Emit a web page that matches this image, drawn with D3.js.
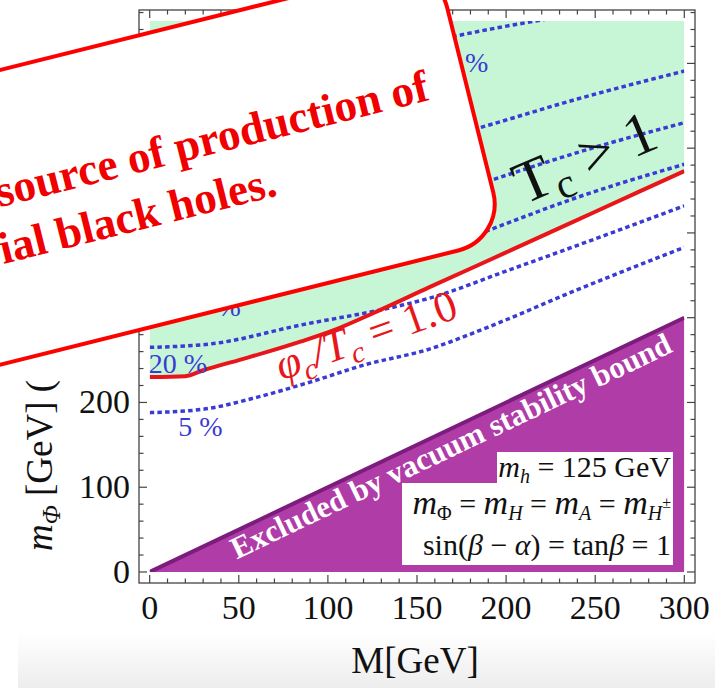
<!DOCTYPE html>
<html><head><meta charset="utf-8">
<script src="https://cdn.jsdelivr.net/npm/d3@7"></script>
<style>html,body{margin:0;padding:0;background:#fff;} svg{display:block;}</style>
</head><body>
<svg id="chart" width="715" height="688"></svg>
<script>
// ---- data ----------------------------------------------------------
const xMajorTicks = [0, 50, 100, 150, 200, 250, 300];
const yMajorTicks = [0, 100, 200, 300, 400, 500, 600];

// phi_c / T_c = 1.0 boundary  [M, m_Phi]
const criticalLine = [[0,230],[20,231],[30,238],[50,250],[65,259],[85,272],[103,285],[125,305],[157,336],[200,377],[250,425],[300,473]];
// dotted contours of the fraction (percent)
const contour5  = [[0,188],[30,192],[60,206],[90,224],[120,244],[157,263],[190,289],[240,333],[300,383]];
const contour20 = [[0,265],[34,269],[84,291],[140,314],[157,323],[200,355],[250,393],[300,432]];
const contourD  = [[0,306],[40,318],[80,336],[139,362],[190,403],[240,442],[300,481]];
const contourC  = [[140,425],[190,461],[245,498],[300,530]];
const contourB  = [[140,498],[185,524],[240,558],[300,591]];
const contourA  = [[140,620],[166,630],[190,640],[222,652]];
const contours = [contour5, contour20, contourD, contourC, contourB, contourA];
// vacuum stability: m_Phi < M excluded
const excluded = [[0,0],[300,300],[300,0]];
const regionTop = 650;

// ---- scales --------------------------------------------------------
const svg = d3.select("#chart");
const x = d3.scaleLinear().domain([-6, 306]).range([139, 695]);
const y = d3.scaleLinear().domain([-13, 663]).range([583, 10]);
const serif = "'Liberation Serif','Times New Roman',serif";

// faint grey band at the foot of the page
const defs = svg.append("defs");
const g1 = defs.append("linearGradient").attr("id","foot").attr("x1",0).attr("y1",0).attr("x2",0).attr("y2",1);
g1.append("stop").attr("offset","0").attr("stop-color","#ffffff");
g1.append("stop").attr("offset","1").attr("stop-color","#ededed");
svg.append("rect").attr("x",18).attr("y",632).attr("width",697).attr("height",56).attr("fill","url(#foot)");

defs.append("clipPath").attr("id","plotClip").append("rect")
  .attr("x", x(0)).attr("y", y(regionTop)).attr("width", x(300)-x(0)).attr("height", y(0)-y(regionTop));

const plot = svg.append("g").attr("clip-path","url(#plotClip)");

// strong first-order region (above the critical line)
plot.append("path")
  .datum(criticalLine)
  .attr("d", d3.area().x(d=>x(d[0])).y0(y(regionTop)).y1(d=>y(d[1])).curve(d3.curveMonotoneX))
  .attr("fill","#c6f6d6");

// excluded triangle
plot.append("path")
  .attr("d", d3.line().x(d=>x(d[0])).y(d=>y(d[1]))(excluded) + "Z")
  .attr("fill","#b03ca8");
plot.append("line")
  .attr("x1", x(excluded[0][0])).attr("y1", y(excluded[0][1]))
  .attr("x2", x(excluded[1][0])).attr("y2", y(excluded[1][1]))
  .attr("stroke","#7c1c7c").attr("stroke-width",4);

const line = d3.line().x(d=>x(d[0])).y(d=>y(d[1])).curve(d3.curveMonotoneX);
plot.selectAll("path.contour").data(contours).join("path")
  .attr("class","contour").attr("d", line)
  .attr("fill","none").attr("stroke","#3a3ad4").attr("stroke-width",3.5)
  .attr("stroke-dasharray","4.5,3.2");

plot.append("path").datum(criticalLine).attr("d", line)
  .attr("fill","none").attr("stroke","#e8161b").attr("stroke-width",4);

// contour labels
const pctLabels = [
  {t:"5 %",  at:[16,160]},
  {t:"20 %", at:[-0.5,235]},
  {t:"%",    at:[38,302]},
  {t:"%",    at:[177,590]}
];
svg.selectAll("text.pct").data(pctLabels).join("text")
  .attr("class","pct")
  .attr("x", d=>x(d.at[0])).attr("y", d=>y(d.at[1]))
  .attr("font-family", serif).attr("font-size", 28).attr("fill","#3a3ad4")
  .text(d=>d.t);

// region annotations
const excludedText = "Excluded by vacuum stability bound";
{
  const ang = Math.atan2(y(300)-y(0), x(300)-x(0)) * 180/Math.PI;
  svg.append("text")
    .attr("transform", `translate(${x(171.5)},${y(137.5)}) rotate(${ang})`)
    .attr("text-anchor","middle")
    .attr("font-family", serif).attr("font-weight","bold").attr("font-size", 31)
    .attr("fill","#ffffff").text(excludedText);
}

function addSegs(sel, segs) {
  segs.forEach(s => {
    const ts = sel.append("tspan").text(s.t);
    if (s.i) ts.attr("font-style","italic");
    if (s.s) ts.attr("font-size", s.s);
    if (s.dy) ts.attr("dy", s.dy);
  });
}

// phi_c/T_c = 1.0 along the critical line
{
  const t = svg.append("text")
    .attr("transform", `translate(${x(74)},${y(226)}) rotate(-19.5)`)
    .attr("font-family", serif).attr("font-size", 44).attr("fill","#e8161b");
  addSegs(t, [{t:"φ",i:1},{t:"c",i:1,s:30,dy:9},{t:"/",i:1,dy:-9},{t:"T",i:1},{t:"c",i:1,s:30,dy:9},{t:" = 1.0",dy:-9}]);
}
// Tc > 1 in the green region
{
  const t = svg.append("text")
    .attr("transform", `translate(${x(287)},${y(502)}) rotate(-23)`)
    .attr("text-anchor","end")
    .attr("font-family", serif).attr("font-size", 60).attr("fill","#111");
  addSegs(t, [{t:"T"},{t:"c",s:42,dy:11},{t:" > 1",dy:-11}]);
}

// parameter legend
svg.append("rect").attr("x",497).attr("y",452).attr("width",176).attr("height",32).attr("fill","#fff");
svg.append("rect").attr("x",402).attr("y",483).attr("width",271).attr("height",82).attr("fill","#fff");
const legendLines = [
  [{t:"m",i:1},{t:"h",i:1,s:20,dy:6},{t:" = 125 GeV",dy:-6}],
  [{t:"m",i:1,s:34},{t:"Φ",s:20,dy:6},{t:" = ",dy:-6},{t:"m",i:1,s:34},{t:"H",i:1,s:20,dy:6},{t:" = ",dy:-6},
   {t:"m",i:1,s:34},{t:"A",i:1,s:20,dy:6},{t:" = ",dy:-6},{t:"m",i:1,s:34},{t:"H",i:1,s:20,dy:6},{t:"±",s:16,dy:-12}],
  [{t:"sin("},{t:"β",i:1},{t:" − "},{t:"α",i:1},{t:") = tan"},{t:"β",i:1},{t:" = 1"}]
];
const legendBase = [477, 514, 555];
legendLines.forEach((segs, k) => {
  const t = svg.append("text").attr("x", 671).attr("y", legendBase[k])
    .attr("text-anchor","end").attr("font-family", serif).attr("font-size", 30).attr("fill","#111");
  addSegs(t, segs);
});

// ---- frame and ticks ----------------------------------------------
const frame = svg.append("g");
frame.append("rect").attr("x", x(-6)).attr("y", y(663)).attr("width", x(306)-x(-6)).attr("height", y(-13)-y(663))
  .attr("fill","none").attr("stroke","#444").attr("stroke-width",1.3);
const xMinor = d3.range(0, 301, 10);
const yMinor = d3.range(0, 661, 20);
xMinor.forEach(v => {
  const len = xMajorTicks.includes(v) ? 8 : 4.5;
  frame.append("line").attr("x1",x(v)).attr("x2",x(v)).attr("y1",y(-13)).attr("y2",y(-13)-len).attr("stroke","#444").attr("stroke-width",1.2);
  frame.append("line").attr("x1",x(v)).attr("x2",x(v)).attr("y1",y(663)).attr("y2",y(663)+len).attr("stroke","#444").attr("stroke-width",1.2);
});
yMinor.forEach(v => {
  const len = yMajorTicks.includes(v) ? 8 : 4.5;
  frame.append("line").attr("y1",y(v)).attr("y2",y(v)).attr("x1",x(-6)).attr("x2",x(-6)+len).attr("stroke","#444").attr("stroke-width",1.2);
  frame.append("line").attr("y1",y(v)).attr("y2",y(v)).attr("x1",x(306)).attr("x2",x(306)-len).attr("stroke","#444").attr("stroke-width",1.2);
});

svg.selectAll("text.xt").data(xMajorTicks).join("text").attr("class","xt")
  .attr("x", d=>x(d)).attr("y", 619).attr("text-anchor","middle")
  .attr("font-family", serif).attr("font-size", 34).attr("fill","#111").text(d=>d);
svg.selectAll("text.yt").data(yMajorTicks).join("text").attr("class","yt")
  .attr("x", 130).attr("y", d=>y(d)+11).attr("text-anchor","end")
  .attr("font-family", serif).attr("font-size", 34).attr("fill","#111").text(d=>d);

svg.append("text").attr("x", 415).attr("y", 673).attr("text-anchor","middle")
  .attr("font-family", serif).attr("font-size", 37).attr("fill","#111").text("M[GeV]");
{
  const t = svg.append("text").attr("transform","translate(52,551) rotate(-90)")
    .attr("font-family", serif).attr("font-size", 37).attr("fill","#111");
  addSegs(t, [{t:"m",i:1},{t:"Φ",i:1,s:25,dy:8},{t:" [GeV] (",dy:-8}]);
}

// ---- callout ---------------------------------------------------------
const callout = {angle:-14, ox:0, oy:70, left:-320, right:449, height:286, r:48};
const callLines = [
  {t:"source of production of", u:411, v:133},
  {t:"ial black holes.", u:240, v:189}
];
{
  const c = callout;
  const g = svg.append("g").attr("transform", `translate(${c.ox},${c.oy}) rotate(${c.angle})`);
  const p = d3.path();
  p.moveTo(c.left + c.r, 0);
  p.lineTo(c.right - c.r, 0);
  p.arcTo(c.right, 0, c.right, c.r, c.r);
  p.lineTo(c.right, c.height - c.r);
  p.arcTo(c.right, c.height, c.right - c.r, c.height, c.r);
  p.lineTo(c.left + c.r, c.height);
  p.arcTo(c.left, c.height, c.left, c.height - c.r, c.r);
  p.lineTo(c.left, c.r);
  p.arcTo(c.left, 0, c.left + c.r, 0, c.r);
  p.closePath();
  g.append("path").attr("d", p.toString()).attr("fill","#fff").attr("stroke","#ff0000").attr("stroke-width",4);
  g.selectAll("text").data(callLines).join("text")
    .attr("x", d=>d.u).attr("y", d=>d.v).attr("text-anchor","end")
    .attr("font-family", serif).attr("font-weight","bold").attr("font-size", 45)
    .attr("fill","#f00000").text(d=>d.t);
}
</script>
</body></html>
